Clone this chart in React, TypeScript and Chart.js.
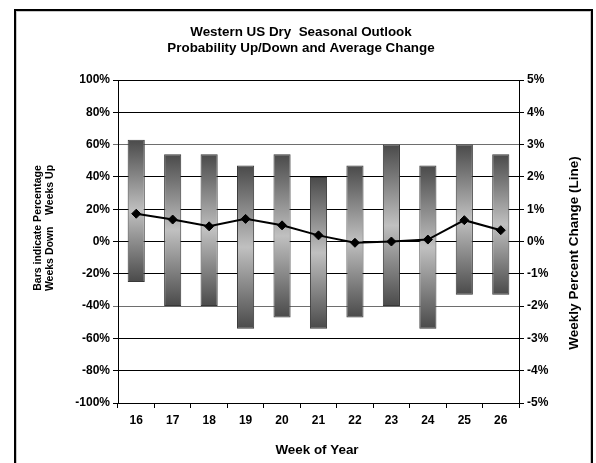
import React, { useEffect, useRef } from "react";
import { Chart, registerables } from "chart.js";

Chart.register(...registerables);

// Week numbers on the category axis
const weeks = ["16", "17", "18", "19", "20", "21", "22", "23", "24", "25", "26"];
// Share of years with the week up (positive) and down (negative), in percent
const weeksUpPct = [63, 54, 54, 47, 54, 40, 47, 60, 47, 60, 54];
const weeksDownPct = [-25, -40, -40, -54, -47, -54, -47, -40, -54, -33, -33];
// Average weekly percent change (right axis)
const avgChangePct = [0.86, 0.68, 0.47, 0.7, 0.5, 0.19, -0.04, 0.0, 0.06, 0.66, 0.35];

const titleLines = ["Western US Dry  Seasonal Outlook", "Probability Up/Down and Average Change"];
const leftTitleLines = ["Bars indicate Percentage", "Weeks Down    Weeks Up"];
const rightTitle = "Weekly Percent Change (Line)";
const xTitle = "Week of Year";

const FONT = '"Liberation Sans", Arial, sans-serif';

const framePlugin = {
  id: "frame",
  beforeDraw(chart: any) {
    const { ctx, width, height } = chart;
    ctx.save();
    ctx.fillStyle = "#ffffff";
    ctx.fillRect(0, 0, width, height);
    ctx.restore();
  },
  afterDraw(chart: any) {
    const { ctx } = chart;
    ctx.save();
    // outer frame
    ctx.strokeStyle = "#000000";
    ctx.lineWidth = 2;
    ctx.strokeRect(15, 10, 577, 480);
    ctx.strokeStyle = "#c8c8c8";
    ctx.lineWidth = 1;
    ctx.strokeRect(16.5, 11.5, 574, 480);

    ctx.fillStyle = "#000000";
    ctx.textAlign = "center";
    ctx.textBaseline = "alphabetic";
    ctx.font = `bold 13.4px ${FONT}`;
    ctx.fillText(titleLines[0], 301, 36);
    ctx.fillText(titleLines[1], 301, 52);

    ctx.font = `bold 13.4px ${FONT}`;
    ctx.fillText(xTitle, 317, 454);

    // left axis title
    ctx.save();
    ctx.translate(38, 228);
    ctx.rotate(-Math.PI / 2);
    ctx.textBaseline = "middle";
    ctx.font = `bold 10.5px ${FONT}`;
    ctx.fillText(leftTitleLines[0], 0, 0);
    ctx.fillText(leftTitleLines[1], 0, 12);
    ctx.restore();

    // right axis title
    ctx.save();
    ctx.translate(574, 253);
    ctx.rotate(-Math.PI / 2);
    ctx.textBaseline = "middle";
    ctx.font = `bold 13.5px ${FONT}`;
    ctx.fillText(rightTitle, 0, 0);
    ctx.restore();

    ctx.restore();
  },
};

function barFill(context: any) {
  const chart = context.chart;
  const yScale = chart.scales && chart.scales.y;
  const i = context.dataIndex;
  if (!yScale || i === undefined) return "#888888";
  const top = yScale.getPixelForValue(weeksUpPct[i]);
  const bottom = yScale.getPixelForValue(weeksDownPct[i]);
  if (!isFinite(top) || !isFinite(bottom) || top === bottom) return "#888888";
  const g = chart.ctx.createLinearGradient(0, top, 0, bottom);
  g.addColorStop(0, "#4a4a4a");
  g.addColorStop(0.5, "#c0c0c0");
  g.addColorStop(1, "#4a4a4a");
  return g;
}

const tickFont = { family: FONT, size: 12, weight: "bold" };

export default function App() {
  const canvasRef = useRef<HTMLCanvasElement | null>(null);

  useEffect(() => {
    if (!canvasRef.current) return;
    const chart = new Chart(canvasRef.current, {
      type: "bar",
      data: {
        labels: weeks,
        datasets: [
          {
            type: "line",
            label: "Average change",
            data: avgChangePct,
            yAxisID: "y1",
            borderColor: "#000000",
            borderWidth: 2,
            pointStyle: "rectRot",
            pointRadius: 4.5,
            pointBackgroundColor: "#000000",
            pointBorderColor: "#000000",
            pointBorderWidth: 1,
            tension: 0,
            order: 0,
          },
          {
            type: "bar",
            label: "Weeks up / down",
            data: weeks.map((_, i) => [weeksDownPct[i], weeksUpPct[i]]),
            yAxisID: "y",
            backgroundColor: barFill,
            borderColor: "#383838",
            borderWidth: 1,
            borderSkipped: false,
            categoryPercentage: 1,
            barPercentage: 0.47,
            order: 1,
          },
        ],
      } as any,
      options: {
        responsive: false,
        animation: false,
        layout: { padding: { top: 80, left: 0, right: 0, bottom: 0 } },
        plugins: {
          legend: { display: false },
          title: { display: false },
          tooltip: { enabled: false },
        },
        scales: {
          x: {
            offset: true,
            grid: {
              offset: true,
              drawOnChartArea: false,
              drawTicks: true,
              tickLength: 5,
              color: "#000000",
            },
            border: { color: "#000000", width: 1 },
            ticks: {
              color: "#000000",
              font: tickFont,
              padding: 5,
              maxRotation: 0,
            },
            afterFit(scale: any) {
              scale.height = 60;
            },
          },
          y: {
            position: "left",
            min: -100,
            max: 100,
            grid: {
              color: (c: any) =>
                c.tick && (c.tick.value === 60 || c.tick.value === -40) ? "#6e6e6e" : "#000000",
              tickLength: 5,
            },
            border: { color: "#000000", width: 1 },
            ticks: {
              stepSize: 20,
              color: "#000000",
              font: tickFont,
              padding: 3,
              callback: (v: any) => `${v}%`,
            },
            afterFit(scale: any) {
              scale.width = 118;
            },
          },
          y1: {
            position: "right",
            min: -5,
            max: 5,
            grid: {
              drawOnChartArea: false,
              tickLength: 5,
              color: "#000000",
            },
            border: { color: "#000000", width: 1 },
            ticks: {
              stepSize: 1,
              color: "#000000",
              font: tickFont,
              padding: 3,
              callback: (v: any) => `${v}%`,
            },
            afterFit(scale: any) {
              scale.width = 77;
            },
          },
        },
      } as any,
      plugins: [framePlugin],
    });
    return () => chart.destroy();
  }, []);

  return (
    <div style={{ position: "absolute", left: 0, top: 0, width: 596, height: 463 }}>
      <canvas ref={canvasRef} width={596} height={463} />
    </div>
  );
}
